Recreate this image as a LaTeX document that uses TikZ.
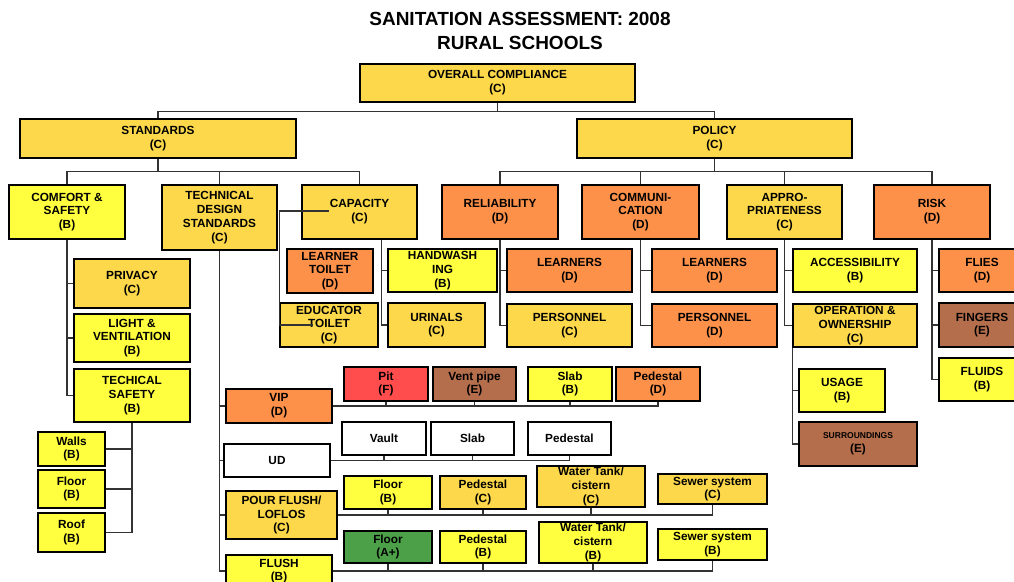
\documentclass[tikz,border=0pt]{standalone}
\usepackage{fontspec}
\setmainfont{Liberation Sans}
\definecolor{yel}{RGB}{255,255,64}
\definecolor{gold}{RGB}{252,216,74}
\definecolor{ora}{RGB}{253,145,74}
\definecolor{brn}{RGB}{180,110,75}
\definecolor{pitred}{RGB}{255,77,77}
\definecolor{grn}{RGB}{76,160,72}
\newcommand{\lab}[2]{#1\\(#2)}
\tikzset{
  box/.style={draw=black, line width=1.5pt, inner sep=0pt, align=center,
              font=\fontsize{11.8}{13.8}\selectfont\bfseries},
  sz/.style 2 args={minimum width=#1pt, minimum height=#2pt},
  link/.style={draw=black!80, line width=1.2pt},
}

\begin{document}
\begin{tikzpicture}[x=1pt,y=1pt]
    \useasboundingbox (0,0) rectangle (1014,-581);
    \clip (0,0) rectangle (1014,-581);
    \node[align=center,font=\fontsize{19}{24}\selectfont\bfseries] (title) at (520,-31) {SANITATION ASSESSMENT: 2008\\RURAL SCHOOLS};

    \node[box,fill=gold,sz={275}{38}] (overall) at (497.5,-83) {\lab{OVERALL COMPLIANCE}{C}};
    \node[box,fill=gold,sz={276}{39}] (standards) at (158,-138.5) {\lab{STANDARDS}{C}};
    \node[box,fill=gold,sz={275}{39}] (policy) at (714.5,-138.5) {\lab{POLICY}{C}};

    \node[box,fill=yel,sz={116}{54}] (comfort) at (67,-212) {COMFORT \&\\\lab{SAFETY}{B}};
    \node[box,fill=gold,sz={115}{65}] (tds) at (219.5,-217.5) {TECHNICAL\\DESIGN\\\lab{STANDARDS}{C}};
    \node[box,fill=gold,sz={115}{54}] (capacity) at (359.5,-212) {\lab{CAPACITY}{C}};
    \node[box,fill=ora,sz={116}{54}] (reliab) at (500,-212) {\lab{RELIABILITY}{D}};
    \node[box,fill=ora,sz={117}{54}] (communi) at (640.5,-212) {COMMUNI-\\\lab{CATION}{D}};
    \node[box,fill=gold,sz={115}{54}] (appro) at (784.5,-212) {APPRO-\\\lab{PRIATENESS}{C}};
    \node[box,fill=ora,sz={116}{54}] (risk) at (932,-212) {\lab{RISK}{D}};

    \node[box,fill=gold,sz={116}{49}] (privacy) at (132,-283.5) {\lab{PRIVACY}{C}};
    \node[box,fill=yel,sz={116}{48}] (light) at (132,-338) {LIGHT \&\\\lab{VENTILATION}{B}};
    \node[box,fill=yel,sz={116}{53}] (techsafety) at (132,-395.5) {TECHICAL\\\lab{SAFETY}{B}};
    \node[box,fill=yel,sz={67}{34}] (walls) at (71.5,-449) {\lab{Walls}{B}};
    \node[box,fill=yel,sz={67}{38}] (floor) at (71.5,-489) {\lab{Floor}{B}};
    \node[box,fill=yel,sz={67}{39}] (roof) at (71.5,-532.5) {\lab{Roof}{B}};

    \node[box,fill=ora,sz={106}{34}] (vip) at (279,-406) {\lab{VIP}{D}};
    \node[box,fill=white,sz={106}{33}] (ud) at (277,-460.5) {UD};
    \node[box,fill=gold,sz={111}{48}] (pour) at (281.5,-515) {POUR FLUSH/\\\lab{LOFLOS}{C}};
    \node[box,fill=yel,sz={106}{32}] (flush) at (279,-571) {\lab{FLUSH}{B}};

    \node[box,fill=pitred,sz={84}{34}] (pit) at (386,-384) {\lab{Pit}{F}};
    \node[box,fill=brn,sz={83}{34}] (vent) at (474.5,-384) {\lab{Vent pipe}{E}};
    \node[box,fill=yel,sz={84}{34}] (vslab) at (570,-384) {\lab{Slab}{B}};
    \node[box,fill=ora,sz={84}{34}] (vped) at (658,-384) {\lab{Pedestal}{D}};

    \node[box,fill=white,sz={84}{33}] (vault) at (384,-438.5) {Vault};
    \node[box,fill=white,sz={83}{33}] (uslab) at (472.5,-438.5) {Slab};
    \node[box,fill=white,sz={83}{33}] (uped) at (569.5,-438.5) {Pedestal};

    \node[box,fill=yel,sz={88}{33}] (pfloor) at (388,-492.5) {\lab{Floor}{B}};
    \node[box,fill=gold,sz={86}{33}] (pped) at (483,-492.5) {\lab{Pedestal}{C}};
    \node[box,fill=gold,sz={108}{41}] (ptank) at (591,-486.5) {Water Tank/\\\lab{cistern}{C}};
    \node[box,fill=gold,sz={109}{30}] (psewer) at (712.5,-489) {\lab{Sewer system}{C}};

    \node[box,fill=grn,sz={88}{32}] (ffloor) at (388,-547) {\lab{Floor}{A+}};
    \node[box,fill=yel,sz={86}{32}] (fped) at (483,-547) {\lab{Pedestal}{B}};
    \node[box,fill=yel,sz={108}{41}] (ftank) at (593,-542.5) {Water Tank/\\\lab{cistern}{B}};
    \node[box,fill=yel,sz={109}{31}] (fsewer) at (712.5,-544.5) {\lab{Sewer system}{B}};

    \node[box,fill=ora,sz={86}{44}] (learnertoilet) at (330,-271) {LEARNER\\\lab{TOILET}{D}};
    \node[box,fill=gold,sz={98}{44}] (educator) at (329,-325) {EDUCATOR\\\lab{TOILET}{C}};
    \node[box,fill=yel,sz={109}{43}] (handwash) at (442.5,-270.5) {HANDWASH\\\lab{ING}{B}};
    \node[box,fill=gold,sz={97}{44}] (urinals) at (436.5,-325) {\lab{URINALS}{C}};

    \node[box,fill=ora,sz={125}{43}] (rlearn) at (569.5,-270.5) {\lab{LEARNERS}{D}};
    \node[box,fill=gold,sz={125}{43}] (rpers) at (569.5,-325.5) {\lab{PERSONNEL}{C}};
    \node[box,fill=ora,sz={125}{43}] (clearn) at (714.5,-270.5) {\lab{LEARNERS}{D}};
    \node[box,fill=ora,sz={125}{43}] (cpers) at (714.5,-325.5) {\lab{PERSONNEL}{D}};

    \node[box,fill=yel,sz={124}{43}] (access) at (855,-270.5) {\lab{ACCESSIBILITY}{B}};
    \node[box,fill=gold,sz={124}{43}] (oper) at (855,-325.5) {OPERATION \&\\OWNERSHIP\\(C)};
    \node[box,fill=yel,sz={86}{43}] (usage) at (842,-390.5) {\lab{USAGE}{B}};
    \node[box,fill=brn,sz={118}{44}] (surround) at (858,-444) {{\fontsize{8.5}{10}\selectfont SURROUNDINGS}\\(E)};

    \node[box,fill=ora,sz={86}{43}] (flies) at (982,-270.5) {\lab{FLIES}{D}};
    \node[box,fill=brn,sz={86}{44}] (fingers) at (982,-325) {\lab{FINGERS}{E}};
    \node[box,fill=yel,sz={86}{43}] (fluids) at (982,-379.5) {\lab{FLUIDS}{B}};

    \draw[link] (overall.south) -- ++(0,-9) -| (standards.north);
    \draw[link] (overall.south) -- ++(0,-9) -| (policy.north);
    \foreach \n in {comfort,tds,capacity} \draw[link] (standards.south) -- ++(0,-13) -| (\n.north);
    \foreach \n in {reliab,communi,appro,risk} \draw[link] (policy.south) -- ++(0,-13) -| (\n.north);

    \foreach \n in {privacy,light,techsafety} \draw[link] (comfort.south) |- (\n.west);
    \foreach \n in {walls,floor,roof} \draw[link] (techsafety.south) |- (\n.east);
    \foreach \n in {vip,ud,pour,flush} \draw[link] (tds.south) |- (\n.west);

    \draw[link] (vip.east) -| (vped.south);
    \foreach \n in {pit,vent,vslab} \draw[link] (\n.south) -- (\n.south |- vip.east);
    \draw[link] (ud.east) -| (uped.south);
    \foreach \n in {vault,uslab} \draw[link] (\n.south) -- (\n.south |- ud.east);
    \draw[link] (pour.east) -| (psewer.south);
    \foreach \n in {pfloor,pped,ptank} \draw[link] (\n.south) -- (\n.south |- pour.east);
    \draw[link] (flush.east) -| (fsewer.south);
    \foreach \n in {ffloor,fped,ftank} \draw[link] (\n.south) -- (\n.south |- flush.east);

    \foreach \n in {handwash,urinals} \draw[link] ([xshift=22pt]capacity.south) |- (\n.west);
    \draw[link] ([xshift=-31pt,yshift=1pt]capacity.center) -| (educator.west) -- ([xshift=-16pt]educator.center);

    \foreach \n in {rlearn,rpers} \draw[link] (reliab.south) |- (\n.west);
    \foreach \n in {clearn,cpers} \draw[link] (communi.south) |- (\n.west);
    \foreach \n in {access,oper} \draw[link] (appro.south) |- (\n.west);
    \foreach \n in {usage,surround} \draw[link] (oper.south west) |- (\n.west);
    \foreach \n in {flies,fingers,fluids} \draw[link] (risk.south) |- (\n.west);
\end{tikzpicture}
\end{document}
